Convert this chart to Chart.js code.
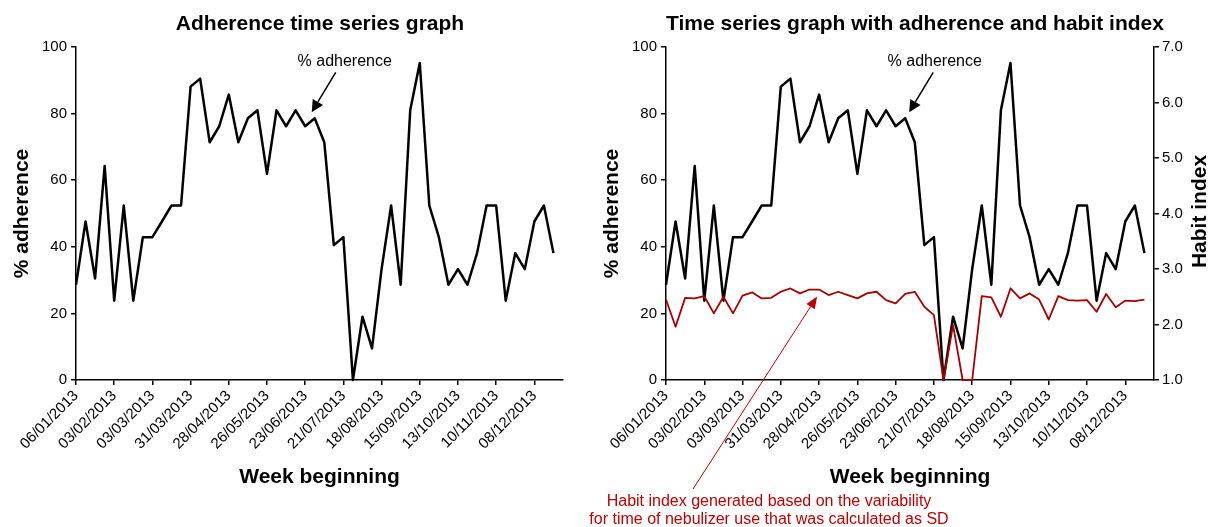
<!DOCTYPE html>
<html>
<head>
<meta charset="utf-8">
<script src="https://cdn.jsdelivr.net/npm/chart.js@4.4.0/dist/chart.umd.min.js"></script>
<style>
    html, body { margin: 0; padding: 0; background: #fff; }
    body { width: 1209px; height: 527px; position: relative; overflow: hidden; }
    canvas { position: absolute; top: 0; }
    #adherenceChart { left: 0; }
    #habitChart { left: 580px; }
</style>
</head>
<body>
<canvas id="adherenceChart" width="580" height="527"></canvas>
<canvas id="habitChart" width="629" height="527"></canvas>
<script>
// Week beginning labels (one per week of 2013)
const weeks = [
    '06/01/2013', '13/01/2013', '20/01/2013', '27/01/2013', '03/02/2013', '10/02/2013', '17/02/2013', '24/02/2013',
    '03/03/2013', '10/03/2013', '17/03/2013', '24/03/2013', '31/03/2013', '07/04/2013', '14/04/2013', '21/04/2013',
    '28/04/2013', '05/05/2013', '12/05/2013', '19/05/2013', '26/05/2013', '02/06/2013', '09/06/2013', '16/06/2013',
    '23/06/2013', '30/06/2013', '07/07/2013', '14/07/2013', '21/07/2013', '28/07/2013', '04/08/2013', '11/08/2013',
    '18/08/2013', '25/08/2013', '01/09/2013', '08/09/2013', '15/09/2013', '22/09/2013', '29/09/2013', '06/10/2013',
    '13/10/2013', '20/10/2013', '27/10/2013', '03/11/2013', '10/11/2013', '17/11/2013', '24/11/2013', '01/12/2013',
    '08/12/2013', '15/12/2013', '22/12/2013', '29/12/2013'
];

// % adherence per week
const adherence = [
    28.6, 47.6, 30.5, 64.3, 23.8, 52.4, 23.8, 42.9, 42.9, 47.6,
    52.4, 52.4, 88.1, 90.5, 71.4, 76.2, 85.7, 71.4, 78.6, 81.0,
    61.9, 81.0, 76.2, 81.0, 76.2, 78.6, 71.4, 40.5, 42.9, 0,
    19.0, 9.5, 33.3, 52.4, 28.6, 81.0, 95.2, 52.4, 42.9, 28.6,
    33.3, 28.6, 38.1, 52.4, 52.4, 23.8, 38.1, 33.3, 47.6, 52.4, 38.1
];

// Habit index per week
const habitIndex = [
    2.45, 1.96, 2.48, 2.47, 2.51, 2.20, 2.50, 2.20, 2.52, 2.58,
    2.47, 2.48, 2.59, 2.65, 2.56, 2.63, 2.63, 2.53, 2.59, 2.53,
    2.47, 2.56, 2.59, 2.44, 2.38, 2.55, 2.59, 2.32, 2.17, 1.00,
    1.99, 1.00, 1.00, 2.51, 2.49, 2.14, 2.65, 2.47, 2.56, 2.45,
    2.09, 2.51, 2.44, 2.43, 2.44, 2.23, 2.55, 2.31, 2.43, 2.42, 2.45
];

const labelEvery = 4;
const FONT = "'Liberation Sans', Arial, sans-serif";
const RED_LINE = '#a80000';
const RED_TEXT = '#c00000';

function drawArrow(ctx, x0, y0, x1, y1, color, width, headLen, headHalf) {
    const ang = Math.atan2(y1 - y0, x1 - x0);
    const bx = x1 - headLen * Math.cos(ang);
    const by = y1 - headLen * Math.sin(ang);
    ctx.strokeStyle = color;
    ctx.fillStyle = color;
    ctx.lineWidth = width;
    ctx.beginPath();
    ctx.moveTo(x0, y0);
    ctx.lineTo(bx, by);
    ctx.stroke();
    ctx.beginPath();
    ctx.moveTo(x1, y1);
    ctx.lineTo(bx + headHalf * Math.sin(ang), by - headHalf * Math.cos(ang));
    ctx.lineTo(bx - headHalf * Math.sin(ang), by + headHalf * Math.cos(ang));
    ctx.closePath();
    ctx.fill();
}

// Titles, callouts and the right axis title
const notesPlugin = {
    id: 'notes',
    afterDraw(chart, args, opts) {
        const ctx = chart.ctx;
        const area = chart.chartArea;
        const xs = chart.scales.x;
        const ys = chart.scales.y;
        ctx.save();

        ctx.fillStyle = '#000';
        ctx.font = 'bold 21px ' + FONT;
        ctx.textAlign = 'center';
        ctx.textBaseline = 'middle';
        ctx.fillText(opts.title, (area.left + area.right) / 2 + opts.titleShift, 24.5);

        // "% adherence" callout
        const tipX = xs.getPixelForValue(25) + opts.tipShift;
        const tipY = ys.getPixelForValue(adherence[25]) - 6;
        ctx.font = '16px ' + FONT;
        ctx.fillText('% adherence', tipX + opts.textShift, tipY - 51);
        drawArrow(ctx, tipX + 24, tipY - 40, tipX, tipY, '#000', 1.5, 12, 6);

        if (opts.habit) {
            const ys2 = chart.scales.y2;
            ctx.save();
            ctx.translate(area.right + 46.7, (area.top + area.bottom) / 2 - 2);
            ctx.rotate(-Math.PI / 2);
            ctx.font = 'bold 21px ' + FONT;
            ctx.fillStyle = '#000';
            ctx.fillText('Habit index', 0, 0);
            ctx.restore();

            const hx = xs.getPixelForValue(16) - 2;
            const hy = ys2.getPixelForValue(habitIndex[16]) + 7;
            drawArrow(ctx, area.left + 27, 489, hx, hy, RED_TEXT, 1, 12, 5);
            ctx.fillStyle = RED_TEXT;
            ctx.font = '16px ' + FONT;
            ctx.fillText('Habit index generated based on the variability', area.left + 103, 502);
            ctx.fillText('for time of nebulizer use that was calculated as SD', area.left + 103, 520);
        }
        ctx.restore();
    }
};

function weekAxis() {
    return {
        type: 'category',
        offset: false,
        border: { display: true, color: '#000', width: 1.5 },
        grid: {
            drawOnChartArea: false,
            drawTicks: true,
            tickLength: 5,
            lineWidth: 1.5,
            color: c => (c.index % labelEvery === 0 ? '#000' : 'rgba(0,0,0,0)')
        },
        ticks: {
            autoSkip: false,
            minRotation: 45,
            maxRotation: 45,
            padding: 2,
            color: '#000',
            font: { family: FONT, size: 15 },
            callback: function (value, index) {
                return index % labelEvery === 0 ? this.getLabelForValue(value) : '';
            }
        },
        title: {
            display: true,
            text: 'Week beginning',
            color: '#000',
            font: { family: FONT, size: 21, weight: 'bold' },
            padding: { top: 0, bottom: 36.7 }
        },
        afterFit: scale => { scale.height = 147; }
    };
}

function adherenceAxis(width, titlePad) {
    return {
        min: 0,
        max: 100,
        border: { display: true, color: '#000', width: 1.5 },
        grid: { drawOnChartArea: false, tickLength: 5, lineWidth: 1.5, color: '#000' },
        ticks: { stepSize: 20, padding: 4, color: '#000', font: { family: FONT, size: 15 } },
        title: {
            display: true,
            text: '% adherence',
            color: '#000',
            font: { family: FONT, size: 21, weight: 'bold' },
            padding: { top: titlePad, bottom: 0 }
        },
        afterFit: scale => { scale.width = width; }
    };
}

const adherenceSet = {
    label: '% adherence',
    data: adherence,
    borderColor: '#000',
    borderWidth: 2.5,
    borderJoinStyle: 'round',
    pointRadius: 0,
    tension: 0,
    clip: false,
    order: 1
};

const baseOptions = {
    responsive: false,
    animation: false,
    devicePixelRatio: 1,
    plugins: { legend: { display: false }, tooltip: { enabled: false } }
};

// Adherence Chart
const adherenceChart = new Chart(document.getElementById('adherenceChart'), {
    type: 'line',
    data: { labels: weeks, datasets: [adherenceSet] },
    options: {
        ...baseOptions,
        layout: { padding: { top: 47, right: 17, left: 0, bottom: 0 } },
        plugins: {
            ...baseOptions.plugins,
            notes: { title: 'Adherence time series graph', titleShift: 0.5, tipShift: -3, textShift: 33 }
        },
        scales: { x: weekAxis(), y: adherenceAxis(76, 9.4) }
    },
    plugins: [notesPlugin]
});

// Adherence + Habit index Chart
const habitChart = new Chart(document.getElementById('habitChart'), {
    type: 'line',
    data: {
        labels: weeks,
        datasets: [
            { ...adherenceSet },
            {
                label: 'Habit index',
                data: habitIndex,
                yAxisID: 'y2',
                borderColor: RED_LINE,
                borderWidth: 1.8,
                borderJoinStyle: 'round',
                pointRadius: 0,
                tension: 0,
                clip: false,
                order: 0
            }
        ]
    },
    options: {
        ...baseOptions,
        layout: { padding: { top: 47, right: 0, left: 0, bottom: 0 } },
        plugins: {
            ...baseOptions.plugins,
            notes: { title: 'Time series graph with adherence and habit index', titleShift: 5, tipShift: 4, textShift: 25.5, habit: true }
        },
        scales: {
            x: weekAxis(),
            y: adherenceAxis(86, 19.4),
            y2: {
                position: 'right',
                min: 1,
                max: 7,
                border: { display: true, color: '#000', width: 1.5 },
                grid: { drawOnChartArea: false, tickLength: 5, lineWidth: 1.5, color: '#000' },
                ticks: {
                    stepSize: 1,
                    padding: 3,
                    color: '#000',
                    font: { family: FONT, size: 15 },
                    callback: v => v.toFixed(1)
                },
                afterFit: scale => { scale.width = 55; }
            }
        }
    },
    plugins: [notesPlugin]
});
</script>
</body>
</html>
